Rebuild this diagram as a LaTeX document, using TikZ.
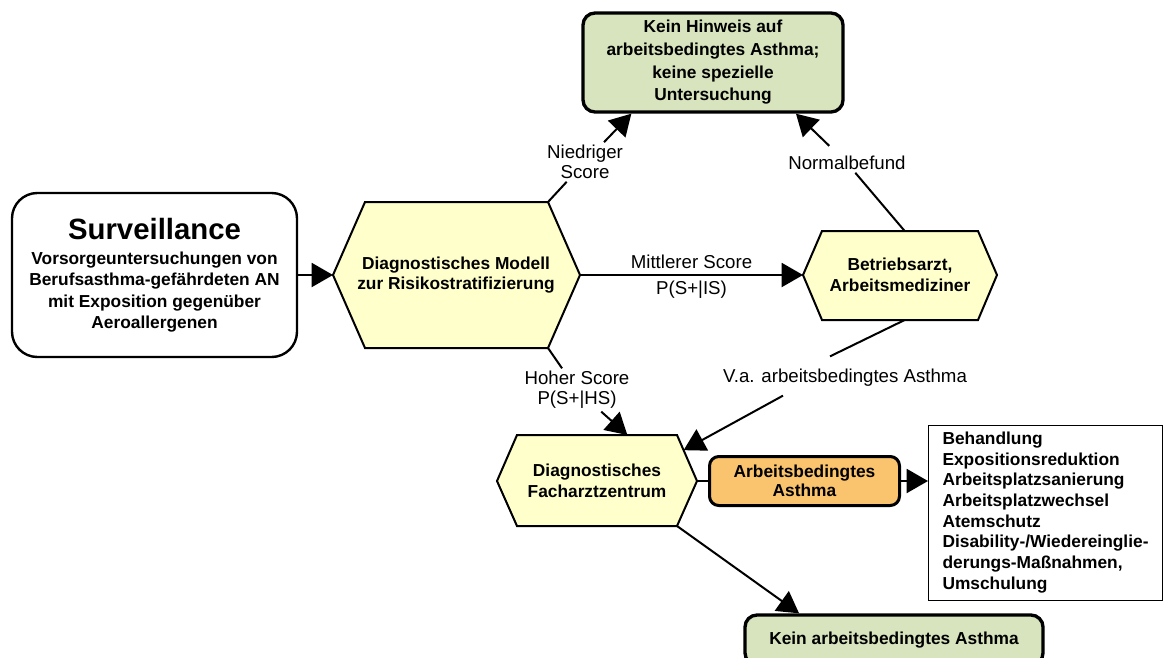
\documentclass[tikz,border=0pt]{standalone}
\usepackage{fontspec}
\setmainfont{Liberation Sans}
\usetikzlibrary{arrows.meta,positioning,calc}
\definecolor{hexyellow}{HTML}{FFFFCC}
\definecolor{okgreen}{HTML}{D7E4BD}
\definecolor{asthmaorange}{HTML}{FAC46E}

\begin{document}
\begin{tikzpicture}[x=0.75pt, y=-0.75pt, node distance=8.25pt,
    line/.style={line width=1.5pt},
    arr/.style={line width=1.5pt, -{Triangle[length=16pt,width=18pt]}},
    hexa/.style={draw, fill=hexyellow, line width=1.5pt},
    hextext/.style={font=\bfseries\fontsize{13}{15.5}\selectfont, align=center},
    lbl/.style={font=\fontsize{14}{15}\selectfont, align=center, inner sep=2pt},
    endbox/.style={draw, fill=okgreen, rounded corners=9pt, line width=2.5pt,
      align=center, font=\bfseries\fontsize{13}{17}\selectfont}]
  \useasboundingbox (0,0) rectangle (1163,657);

  % start box
  \node[draw, rounded corners=19pt, line width=1.8pt, minimum width=213.75pt,
    minimum height=123pt, align=center, font=\bfseries\fontsize{13}{16}\selectfont]
    (surv) at (154.5,275) {{\fontsize{22}{26}\selectfont Surveillance}\\[3pt]
    Vorsorgeuntersuchungen von\\Berufsasthma-gefährdeten AN\\mit Exposition gegenüber\\Aeroallergenen};

  % hexagons
  \draw[hexa] (333,275) coordinate (mod-w) -- (365,202) coordinate (mod-nw)
    -- (548,202) coordinate (mod-ne) -- (580,275) coordinate (mod-e)
    -- (548,348) coordinate (mod-se) -- (365,348) coordinate (mod-sw) -- cycle;
  \node[hextext] (modell) at (456,275) {Diagnostisches Modell\\zur Risikostratifizierung};

  \draw[hexa] (803,275) coordinate (be-w) -- (822,231) coordinate (be-nw)
    -- (978,231) coordinate (be-ne) -- (997,275) coordinate (be-e)
    -- (978,320) coordinate (be-se) -- (822,320) coordinate (be-sw) -- cycle;
  \node[hextext] (betrieb) at (900,275) {Betriebsarzt,\\Arbeitsmediziner};

  \draw[hexa] (497,481) coordinate (fz-w) -- (517,435) coordinate (fz-nw)
    -- (677,435) coordinate (fz-ne) -- (697,481) coordinate (fz-e)
    -- (677,526) coordinate (fz-se) -- (517,526) coordinate (fz-sw) -- cycle;
  \node[hextext] (facharzt) at (597,481) {Diagnostisches\\Facharztzentrum};

  % outcomes
  \node[endbox, minimum width=195pt, minimum height=74.25pt] (kein) at (713,62.5)
    {Kein Hinweis auf\\arbeitsbedingtes Asthma;\\keine spezielle\\Untersuchung};
  \node[draw, fill=asthmaorange, rounded corners=7pt, line width=2.25pt,
    minimum width=142.5pt, minimum height=36.75pt, align=center,
    font=\bfseries\fontsize{13}{14.5}\selectfont, right=of fz-e] (asthma)
    {Arbeitsbedingtes\\Asthma};
  \node[draw, line width=0.75pt, minimum width=175.5pt, minimum height=131.25pt,
    align=left, font=\bfseries\fontsize{13}{15.5}\selectfont, anchor=west]
    (list) at (928,512.5) {Behandlung\\Expositionsreduktion\\Arbeitsplatzsanierung\\Arbeitsplatzwechsel\\Atemschutz\\Disability-/Wiedereinglie-\\derungs-Maßnahmen,\\Umschulung};
  \node[endbox, minimum width=223.5pt, minimum height=37.5pt] (kein2) at (894,640)
    {Kein arbeitsbedingtes Asthma};

  % labels
  \node[lbl] (lowlbl) at (585,162) {Niedriger\\Score};
  \node[lbl] (normlbl) at (847,163) {Normalbefund};
  \node[lbl] (hilbl) at (577,390) {Hoher Score\\P(S+|HS)};
  \node[lbl] (valbl) at (845,378) {V.a. arbeitsbedingtes Asthma};

  % connectors
  \draw[arr] (surv) -- (mod-w);
  \draw[arr] (mod-e) -- node[lbl, above=2pt] (midlbl) {Mittlerer Score}
    node[lbl, below=2pt] (midprob) {P(S+|IS)} (be-w);
  \draw[line] (mod-ne) -- (lowlbl);
  \draw[arr] (lowlbl) -- ($(kein.south west)!0.19!(kein.south east)$);
  \draw[line] ($(be-nw)!0.53!(be-ne)$) -- (normlbl);
  \draw[arr, shorten <=8pt] (normlbl) -- ($(kein.south west)!0.815!(kein.south east)$);
  \draw[line] (mod-se) -- (hilbl);
  \draw[arr] (hilbl) -- ($(fz-nw)!0.69!(fz-ne)$);
  \draw[line] ($(be-sw)!0.53!(be-se)$) -- ($(valbl.north)+(-15,-10)$);
  \draw[arr] ($(valbl.south)+(-62,6)$) -- ($(fz-ne)!0.33!(fz-e)$);
  \draw[line] (fz-e) -- (asthma);
  \draw[arr] (asthma.east) -- (asthma.east -| list.west);
  \draw[arr] (fz-se) -- ($(kein2.north west)!0.185!(kein2.north east)$);
\end{tikzpicture}
\end{document}
